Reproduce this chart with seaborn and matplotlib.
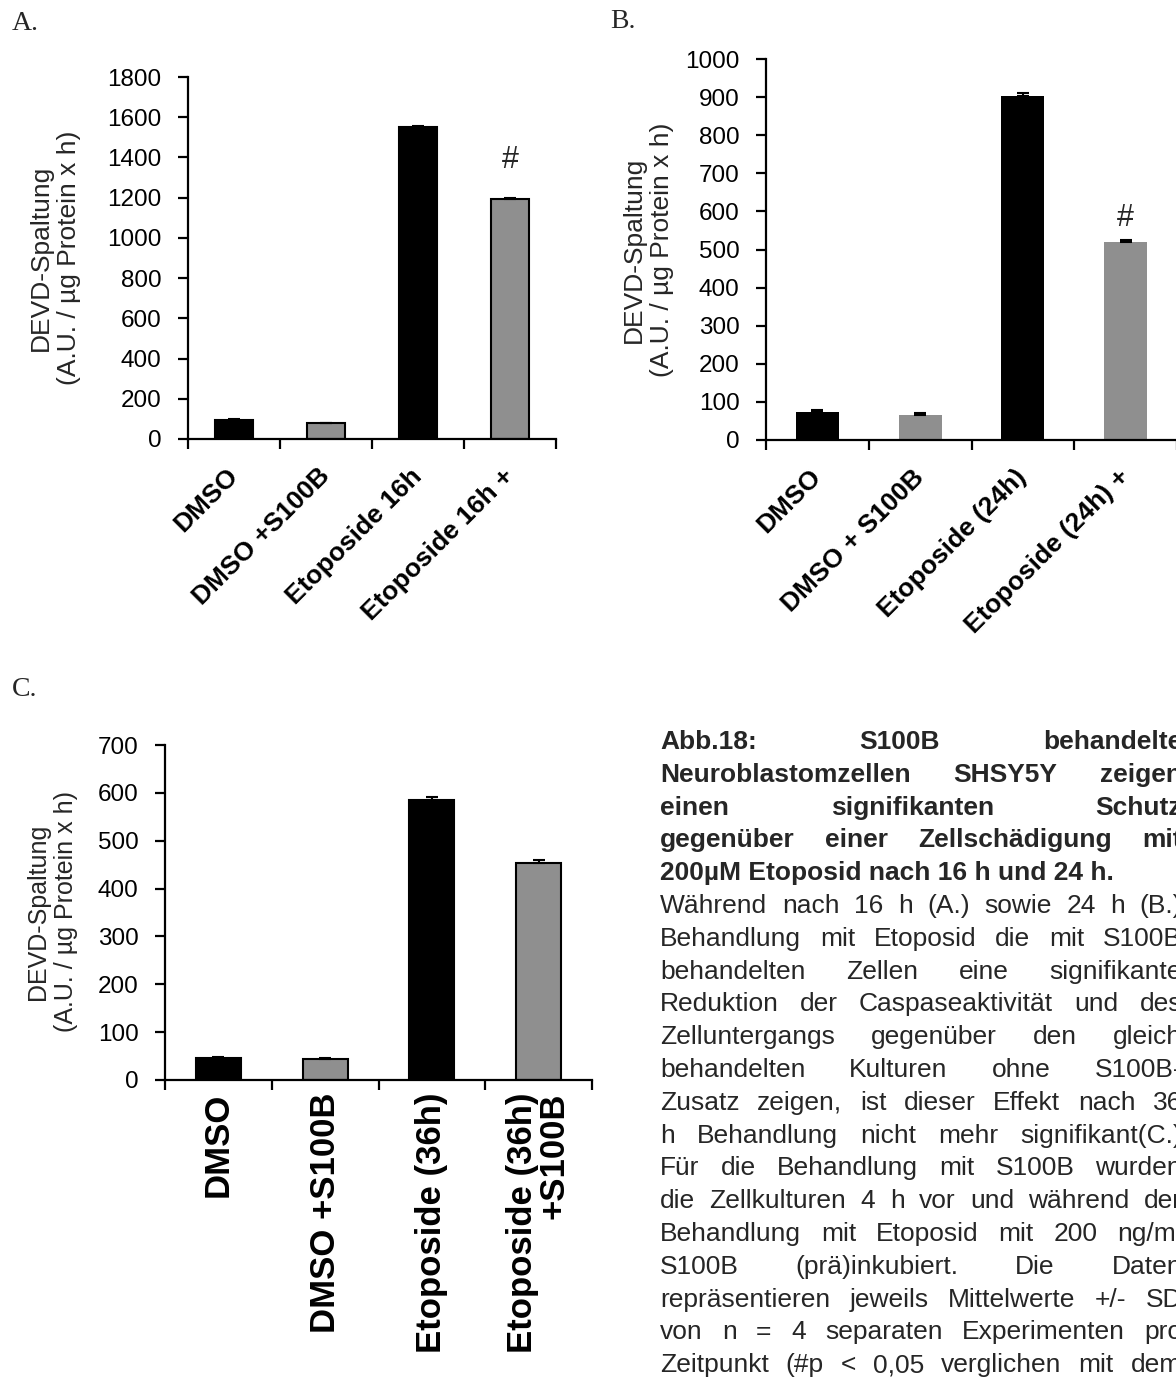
import matplotlib
matplotlib.use("Agg")
import matplotlib.pyplot as plt
import seaborn as sns
import numpy as np
import pandas as pd

sns.set_theme(style="white")
plt.rcParams["font.family"] = ["Liberation Sans", "DejaVu Sans"]

# ---------------- data ----------------
a_labels = ["DMSO", "DMSO +S100B", "Etoposide 16h", "Etoposide 16h +"]
a_values = [96, 78, 1550, 1195]
a_err = [4, 4, 4, 4]

b_labels = ["DMSO", "DMSO + S100B", "Etoposide (24h)", "Etoposide (24h) +"]
b_values = [74, 65, 902, 519]
b_err = [6, 5, 8, 5]

c_labels = ["DMSO", "DMSO +S100B", "Etoposide (36h)", "Etoposide (36h)\n+S100B"]
c_values = [46, 44, 586, 454]
c_err = [3, 3, 5, 5]

treatment = ["ohne S100B", "mit S100B", "ohne S100B", "mit S100B"]
ylabel_text = "DEVD-Spaltung\n(A.U. / µg Protein x h)"

caption_bold = [
    "Abb.18: S100B behandelte",
    "Neuroblastomzellen SHSY5Y zeigen",
    "einen signifikanten Schutz",
    "gegenüber einer Zellschädigung mit",
    "200µM Etoposid nach 16 h und 24 h.",
]
caption_regular = [
    "Während nach 16 h  (A.) sowie 24 h (B.)",
    "Behandlung mit Etoposid die mit S100B",
    "behandelten Zellen eine signifikante",
    "Reduktion der Caspaseaktivität und des",
    "Zelluntergangs gegenüber den gleich",
    "behandelten Kulturen ohne S100B-",
    "Zusatz zeigen, ist dieser Effekt nach 36",
    "h Behandlung nicht mehr signifikant(C.)",
    "Für die Behandlung mit S100B wurden",
    "die Zellkulturen 4 h vor und während der",
    "Behandlung mit Etoposid mit 200 ng/ml",
    "S100B (prä)inkubiert. Die Daten",
    "repräsentieren jeweils Mittelwerte +/- SD",
    "von n = 4 separaten Experimenten pro",
    "Zeitpunkt (#p < 0,05 verglichen mit dem",
]

# ---------------- figure ----------------
W, H = 1176, 1395
fig = plt.figure(figsize=(W / 100, H / 100), dpi=100)
fig.patch.set_facecolor("white")


def px_axes(x0, x1, ytop, yzero):
    return fig.add_axes([x0 / W, 1 - yzero / H, (x1 - x0) / W, (yzero - ytop) / H])


palette = {"ohne S100B": "#000000", "mit S100B": "#8f8f8f"}


def panel(ax, labels, values, err, ymax, ystep, edge, rot, lab_fs, lab_pad, tick_fs):
    df = pd.DataFrame({"label": labels, "value": values, "treat": treatment})
    sns.barplot(data=df, x="label", y="value", hue="treat", palette=palette,
                dodge=False, width=0.42, errorbar=None, legend=False, ax=ax,
                edgecolor="black" if edge else "none",
                linewidth=1.5 if edge else 0)
    n = len(values)
    ax.errorbar(np.arange(n), values, yerr=[np.zeros(n), err], fmt="none",
                ecolor="black", elinewidth=1.5, capsize=4.5, capthick=1.5, zorder=5)
    ax.set_xlim(-0.5, n - 0.5)
    ax.set_ylim(0, ymax)
    ax.set_yticks(np.arange(0, ymax + 1, ystep))
    ax.set_xlabel("")
    ax.set_ylabel("")
    sns.despine(ax=ax)
    for s in ["left", "bottom"]:
        ax.spines[s].set_linewidth(1.6)
        ax.spines[s].set_color("black")
    ax.set_xticks(np.arange(n + 1) - 0.5)
    ax.set_xticklabels([])
    ax.set_xticks(np.arange(n), minor=True)
    if rot == 45:
        ax.set_xticklabels(labels, minor=True, rotation=45, ha="right",
                           rotation_mode="anchor", fontweight="bold", fontsize=lab_fs,
                           va="center")
    else:
        ax.set_xticklabels(labels, minor=True, rotation=90, ha="right",
                           rotation_mode="anchor", fontweight="bold", fontsize=lab_fs,
                           va="center", multialignment="right", linespacing=0.95)
    ax.tick_params(axis="x", which="major", direction="out", length=7, width=1.6,
                   color="black", bottom=True)
    ax.tick_params(axis="x", which="minor", length=0, pad=lab_pad, bottom=True,
                   labelcolor="black")
    ax.tick_params(axis="y", direction="out", length=7, width=1.6, color="black",
                   labelsize=tick_fs, pad=12, left=True, labelcolor="black")
    ax.grid(False)
    ax.set_facecolor("none")


# Panel A
axA = px_axes(188, 556, 77, 439)
panel(axA, a_labels, a_values, a_err, 1800, 200, True, 45, 19, 24, 17.5)
axA.text(3, a_values[3] + 190, "#", ha="center", va="center", fontsize=22)

# Panel B
axB = px_axes(766, 1177, 59, 440)
panel(axB, b_labels, b_values, b_err, 1000, 100, False, 45, 19, 24, 17.5)
axB.text(3, b_values[3] + 64, "#", ha="center", va="center", fontsize=22)

# Panel C
axC = px_axes(165, 592, 745, 1080)
panel(axC, c_labels, c_values, c_err, 700, 100, True, 90, 25, 9, 17.5)

# y labels
fig.text(55 / W, 1 - 258 / H, ylabel_text, rotation=90, ha="center", va="center",
         fontsize=19, linespacing=1.25)
fig.text(648 / W, 1 - 250 / H, ylabel_text, rotation=90, ha="center", va="center",
         fontsize=19, linespacing=1.25)
fig.text(52 / W, 1 - 912 / H, ylabel_text, rotation=90, ha="center", va="center",
         fontsize=18, linespacing=1.25)

# panel letters
for lab, x, y in [("A.", 12, 23), ("B.", 610, 22), ("C.", 12, 690)]:
    fig.text(x / W, 1 - y / H, lab, ha="left", va="center", fontsize=20,
             family="Liberation Serif")

# caption (justified)
renderer = fig.canvas.get_renderer()
left_px, right_px = 660, 1182
y0, dy = 742, 32.8
lines = [(t, "bold") for t in caption_bold] + [(t, "normal") for t in caption_regular]
for i, (line, weight) in enumerate(lines):
    y = 1 - (y0 + i * dy) / H
    justify = i != 4
    if not justify:
        fig.text(left_px / W, y, line, ha="left", va="center", fontsize=19,
                 fontweight=weight)
        continue
    words = line.split()
    arts = [fig.text(0, y, w, ha="left", va="center", fontsize=19, fontweight=weight)
            for w in words]
    widths = [a.get_window_extent(renderer).width for a in arts]
    gap = (right_px - left_px - sum(widths)) / max(len(words) - 1, 1)
    x = left_px
    for a, w in zip(arts, widths):
        a.set_x(x / W)
        x += w + gap

fig.savefig("out.png", dpi=100, facecolor="white")
